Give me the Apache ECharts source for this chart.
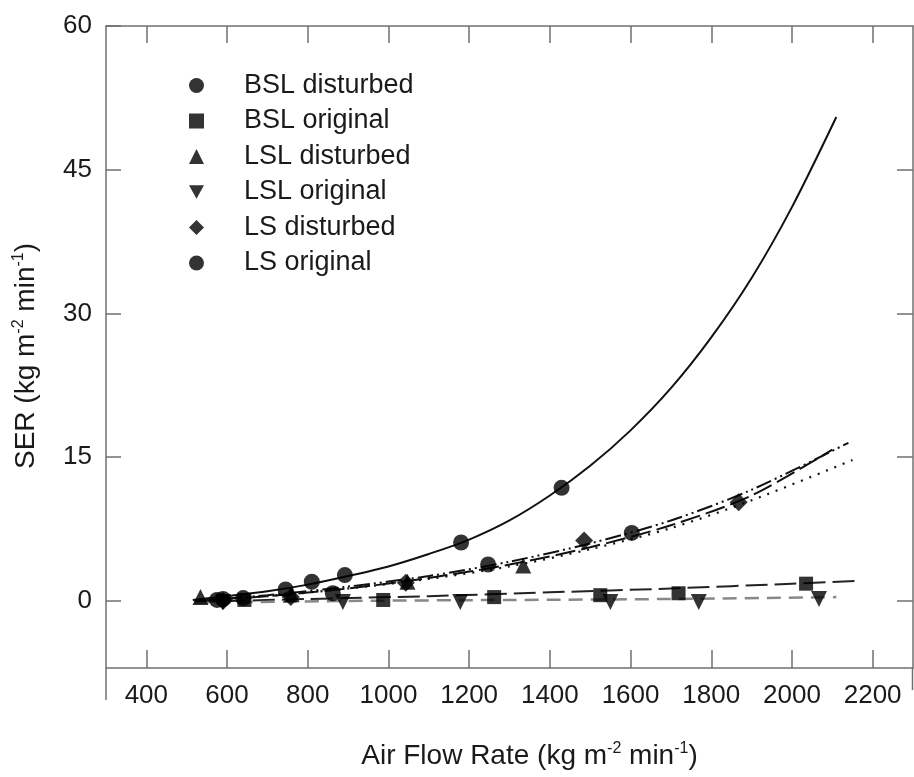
<!DOCTYPE html>
<html>
<head>
<meta charset="utf-8">
<script src="https://cdn.jsdelivr.net/npm/echarts@6/dist/echarts.min.js"></script>
<style>html,body{margin:0;padding:0;background:#fff}#c{width:914px;height:777px}</style>
</head>
<body>
<div id="c"></div>
<script>
// ---- data ----
const xTicks = [400, 600, 800, 1000, 1200, 1400, 1600, 1800, 2000, 2200];
const yTicks = [0, 15, 30, 45, 60];

const bslDisturbed = [[590,0.2],[640,0.3],[745,1.2],[810,2.0],[892,2.7],[1180,6.1],[1429,11.8]];
const bslOriginal  = [[643,0.1],[987,0.1],[1262,0.4],[1525,0.6],[1719,0.8],[2035,1.8]];
const lslDisturbed = [[534,0.4],[760,0.7],[1047,2.0],[1334,3.7]];
const lslOriginal  = [[590,-0.1],[887,-0.1],[1178,-0.1],[1550,-0.1],[1769,-0.1],[2067,0.2]];
const lsDisturbed  = [[590,0.0],[758,0.4],[1043,1.9],[1485,6.3],[1868,10.3]];
const lsOriginal   = [[575,0.1],[862,0.8],[1247,3.8],[1603,7.1]];

const fitBslDisturbed = [[515,0.1],[600,0.5],[700,1.0],[800,1.7],[900,2.6],[1000,3.6],[1100,4.9],[1200,6.4],[1300,8.4],[1400,11.0],[1500,14.1],[1600,17.8],[1700,22.2],[1800,27.5],[1900,33.7],[2000,41.1],[2110,50.5]];
const fitBslOriginal  = [[520,-0.1],[800,0.2],[1100,0.5],[1400,0.9],[1700,1.3],[2000,1.8],[2160,2.1]];
const fitLslOriginal  = [[520,-0.2],[900,0.0],[1300,0.1],[1700,0.2],[2110,0.4]];
const fitLsDisturbed  = [[520,0.0],[700,0.5],[900,1.3],[1100,2.4],[1300,3.8],[1500,5.6],[1700,7.9],[1900,11.0],[2100,15.8]];
const fitLsOriginal   = [[520,0.0],[700,0.6],[900,1.5],[1100,2.6],[1300,4.1],[1500,6.0],[1700,8.4],[1900,11.6],[2140,16.5]];
const fitLslDisturbed = [[520,0.0],[700,0.5],[900,1.3],[1100,2.3],[1300,3.6],[1500,5.4],[1700,7.6],[1900,10.5],[2150,14.7]];

const legendNames = ['BSL disturbed','BSL original','LSL disturbed','LSL original','LS disturbed','LS original'];

// ---- chart ----
const chart = echarts.init(document.getElementById('c'), null, {renderer:'canvas'});
const FONT = 'Liberation Sans, Arial, sans-serif';
const INK = '#1a1a1a';
const AXIS = '#707070';
const DOWN_TRI = 'path://M0,0 L10,0 L5,9 Z';

function scatter(name, data, symbol, size) {
  return {name, type:'scatter', data, symbol, symbolSize:size,
    itemStyle:{color:'#000'}, z:5};
}
function fit(name, data, dash, color, width) {
  return {name, type:'line', data, smooth:0.3, showSymbol:false, symbol:'none',
    lineStyle:{color:color||'#111', width:width||2, type: dash ? dash : 'solid', cap:'butt'},
    z:3, silent:true};
}
const plain = v => String(v);

chart.setOption({
  animation:false,
  backgroundColor:'#fff',
  textStyle:{fontFamily:FONT, color:INK},
  grid:{left:106, right:1, top:26, bottom:109, containLabel:false, outerBoundsMode:'none'},
  legend:{
    data:legendNames, orient:'vertical', left:184, top:67,
    itemWidth:15, itemHeight:15, itemGap:8.5,
    textStyle:{fontSize:27, color:INK, fontFamily:FONT, padding:[0,0,0,35]},
    selectedMode:false
  },
  xAxis:[{
    type:'value', min:300, max:2300, position:'bottom',
    axisLine:{show:true, onZero:false, lineStyle:{color:AXIS, width:1.5}},
    axisTick:{show:true, inside:true, length:18, customValues:xTicks, lineStyle:{color:AXIS, width:1.5}},
    axisLabel:{customValues:xTicks, formatter:plain, fontSize:26, color:INK, margin:15, fontFamily:FONT},
    splitLine:{show:false},
    name:'Air Flow Rate (kg m{sup|-2} min{sup|-1})',
    nameLocation:'middle', nameGap:73,
    nameTextStyle:{fontSize:28, color:INK, fontFamily:FONT, padding:[0,0,0,40],
      rich:{sup:{fontSize:16, color:INK, fontFamily:FONT, padding:[0,0,15,0]}}}
  },{
    type:'value', min:300, max:2300, position:'top',
    axisLine:{show:true, onZero:false, lineStyle:{color:AXIS, width:1.5}},
    axisTick:{show:true, inside:true, length:17, customValues:xTicks, lineStyle:{color:AXIS, width:1.5}},
    axisLabel:{show:false}, splitLine:{show:false}
  }],
  yAxis:[{
    type:'value', min:-7, max:60, position:'left',
    axisLine:{show:true, onZero:false, lineStyle:{color:AXIS, width:1.5}},
    axisTick:{show:true, inside:true, length:15, customValues:yTicks, lineStyle:{color:AXIS, width:1.5}},
    axisLabel:{customValues:yTicks, formatter:plain, fontSize:26, color:INK, margin:14, fontFamily:FONT},
    splitLine:{show:false},
    name:'SER (kg m{sup|-2} min{sup|-1})',
    nameLocation:'middle', nameGap:64, nameRotate:90,
    nameTextStyle:{fontSize:28, color:INK, fontFamily:FONT, padding:[0,18,0,0],
      rich:{sup:{fontSize:16, color:INK, fontFamily:FONT, padding:[0,0,15,0]}}}
  },{
    type:'value', min:-7, max:60, position:'right',
    axisLine:{show:true, onZero:false, lineStyle:{color:AXIS, width:1.5}},
    axisTick:{show:true, inside:true, length:16, customValues:yTicks.slice(0,4), lineStyle:{color:AXIS, width:1.5}},
    axisLabel:{show:false}, splitLine:{show:false}
  }],
  series:[
    fit('BSL disturbed fit', fitBslDisturbed, 'solid', '#111', 2),
    fit('BSL original fit', fitBslOriginal, [22,7], '#222', 2),
    fit('LSL original fit', fitLslOriginal, [14,8], '#888', 2.5),
    fit('LS disturbed fit', fitLsDisturbed, [20,6], '#111', 2),
    fit('LS original fit', fitLsOriginal, [16,4,2,4,2,4], '#111', 2),
    fit('LSL disturbed fit', fitLslDisturbed, [2,7], '#111', 2.2),
    scatter('BSL disturbed', bslDisturbed, 'circle', 16),
    scatter('BSL original', bslOriginal, 'rect', 14),
    scatter('LSL disturbed', lslDisturbed, 'triangle', 16),
    scatter('LSL original', lslOriginal, DOWN_TRI, 16),
    scatter('LS disturbed', lsDisturbed, 'diamond', 18),
    scatter('LS original', lsOriginal, 'circle', 16)
  ]
});

// frame extensions below the x axis line (decoration only)
const bl = chart.convertToPixel({xAxisIndex:0, yAxisIndex:0}, [300, -7]);
const br = chart.convertToPixel({xAxisIndex:0, yAxisIndex:0}, [2300, -7]);
chart.setOption({graphic:[
  {type:'line', shape:{x1:bl[0], y1:bl[1], x2:bl[0], y2:bl[1]+32}, style:{stroke:AXIS, lineWidth:1.5}},
  {type:'line', shape:{x1:br[0]-0.5, y1:br[1], x2:br[0]-0.5, y2:br[1]+22}, style:{stroke:AXIS, lineWidth:1.5}}
]});
</script>
</body>
</html>
